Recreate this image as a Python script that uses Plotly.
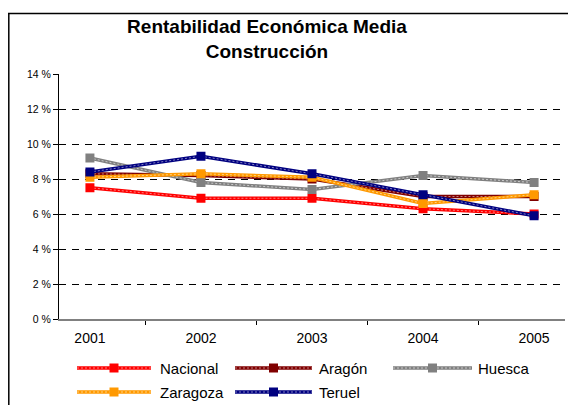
import plotly.graph_objects as go

years = ["2001", "2002", "2003", "2004", "2005"]
nacional = [0.075, 0.069, 0.069, 0.063, 0.060]
aragon = [0.083, 0.082, 0.080, 0.070, 0.070]
huesca = [0.092, 0.078, 0.074, 0.082, 0.078]
zaragoza = [0.081, 0.083, 0.081, 0.066, 0.071]
teruel = [0.084, 0.093, 0.083, 0.071, 0.059]

series_names = ["Nacional", "Aragón", "Huesca", "Zaragoza", "Teruel"]
series_values = [nacional, aragon, huesca, zaragoza, teruel]
series_colors = ["#FF0000", "#800000", "#808080", "#FF9900", "#000080"]
series_light = ["#FF8080", "#C08080", "#C8C8C8", "#FFD080", "#8080C0"]

ytick_vals = [0, 0.02, 0.04, 0.06, 0.08, 0.10, 0.12, 0.14]
ytick_text = ["0 %", "2 %", "4 %", "6 %", "8 %", "10 %", "12 %", "14 %"]

FONT = "Liberation Sans, Arial, sans-serif"

# the page body adds an 8px offset; work in page pixels and convert
OFF = 8
W, H = 576, 405
PL, PR, PT, PB = 59, 565, 74, 319   # plot area in page pixels
L = PL - OFF
R = W - (PR - OFF)
T = PT - OFF
B = H - (PB - OFF)
pw, ph = PR - PL, PB - PT


def px_x(p):
    return (p - PL) / pw


def px_y(p):
    return (PB - p) / ph


fig = go.Figure()
for name, vals, color, light in zip(series_names, series_values, series_colors, series_light):
    fig.add_trace(go.Scatter(
        x=years, y=vals, name=name, mode="lines",
        line=dict(color=color, width=3.5), showlegend=False,
        hoverinfo="skip",
    ))
    fig.add_trace(go.Scatter(
        x=years, y=vals, name=name, mode="lines+markers",
        line=dict(color=light, width=1, dash="2px,2px"),
        marker=dict(symbol="square", size=9, color=color),
        showlegend=False,
    ))

# manual legend matching the reference layout (page pixels)
legend_slots = [
    (77, 151, 158, 368),
    (235, 312, 317, 368),
    (393, 472, 476, 368),
    (77, 151, 158, 392),
    (235, 312, 317, 392),
]
for name, color, light, (x0, x1, xt, yy) in zip(series_names, series_colors, series_light, legend_slots):
    fig.add_shape(type="line", xref="paper", yref="paper",
                  x0=px_x(x0), x1=px_x(x1), y0=px_y(yy), y1=px_y(yy),
                  line=dict(color=color, width=3.5))
    fig.add_shape(type="line", xref="paper", yref="paper",
                  x0=px_x(x0), x1=px_x(x1), y0=px_y(yy), y1=px_y(yy),
                  line=dict(color=light, width=1, dash="2px,2px"))
    xm = (x0 + x1) / 2
    fig.add_shape(type="rect", xref="paper", yref="paper",
                  x0=px_x(xm - 4.5), x1=px_x(xm + 4.5),
                  y0=px_y(yy + 4.5), y1=px_y(yy - 4.5),
                  line=dict(width=0), fillcolor=color)
    fig.add_annotation(text=name, xref="paper", yref="paper",
                       x=px_x(xt), y=px_y(yy), xanchor="left", yanchor="middle",
                       showarrow=False, font=dict(size=15, family=FONT, color="black"))

fig.update_layout(
    width=W, height=H,
    margin=dict(l=L, r=R, t=T, b=B),
    paper_bgcolor="white", plot_bgcolor="white",
    font=dict(family=FONT, color="black"),
    title=dict(
        text="<b>Rentabilidad Económica Media<br>Construcción</b>",
        x=(267 - OFF) / W, xanchor="center", xref="container",
        y=1 - 25 / H, yanchor="middle", yref="container",
        font=dict(size=19, family=FONT),
    ),
    xaxis=dict(
        type="category", showgrid=False, showline=True, linecolor="#808080",
        linewidth=2, ticks="outside", tickson="boundaries", ticklen=4,
        tickcolor="black", tickfont=dict(size=14), zeroline=False,
        ticklabelstandoff=5,
    ),
    yaxis=dict(
        range=[0, 0.14], tickvals=ytick_vals, ticktext=ytick_text,
        showline=True, linecolor="black", linewidth=1, ticks="outside",
        ticklen=5, tickcolor="black", tickfont=dict(size=10.5),
        showgrid=True, gridcolor="black", griddash="7px,6px", gridwidth=1,
        zeroline=False,
    ),
    showlegend=False,
)

# chart-area border: only the left and top edges fall inside the picture
fig.add_shape(type="line", xref="paper", yref="paper",
              x0=px_x(8.8), x1=px_x(8.8), y0=px_y(460), y1=px_y(13),
              line=dict(color="black", width=1.5), layer="below")
fig.add_shape(type="line", xref="paper", yref="paper",
              x0=px_x(8), x1=px_x(640), y0=px_y(13.5), y1=px_y(13.5),
              line=dict(color="black", width=1.5), layer="below")

fig.write_html("out.html")
